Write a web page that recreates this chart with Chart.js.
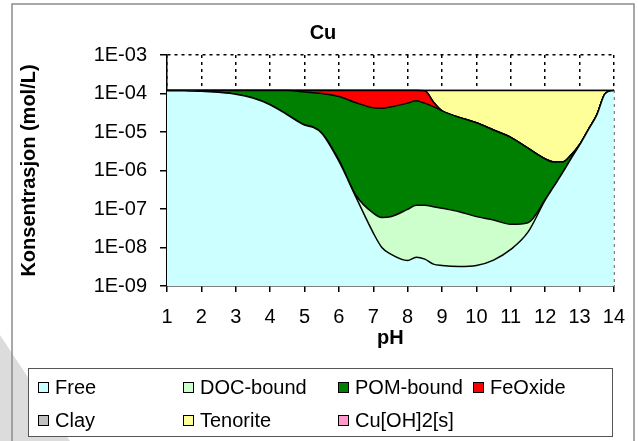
<!DOCTYPE html>
<html>
<head>
<meta charset="utf-8">
<script src="https://cdn.jsdelivr.net/npm/chart.js@4.4.1/dist/chart.umd.min.js"></script>
<style>
  html, body { margin: 0; padding: 0; background: #fff; }
  canvas { display: block; }
</style>
</head>
<body>
<canvas id="cuChart" width="638" height="441"></canvas>
<script>
// pH steps (x) and Cu species, mol/L
const ph = [1, 1.5, 2, 2.5, 3, 3.5, 4, 4.5, 5, 5.25, 5.5, 6, 6.5, 7, 7.25, 7.5, 8, 8.25, 8.5, 8.75,
            9, 9.5, 10, 10.5, 11, 11.5, 12, 12.25, 12.5, 12.75, 13, 13.25, 13.5, 13.75, 14];

const free = [1.18e-4, 1.17e-4, 1.15e-4, 1.07e-4, 9.55e-5, 7.6e-5, 5.1e-5, 2.8e-5, 1.51e-5, 1.32e-5,
              9.3e-6, 1.74e-6, 2.0e-7, 2.4e-8, 1.0e-8, 6.8e-9, 4.6e-9, 5.6e-9, 5.0e-9, 3.7e-9,
              3.4e-9, 3.2e-9, 3.4e-9, 4.7e-9, 8.9e-9, 2.5e-8, 1.7e-7, 3.8e-7, 8.5e-7, 2.0e-6,
              4.57e-6, 1.12e-5, 2.75e-5, 1.0e-4, 1.2e-4];

const docBound = [1e-7, 2e-7, 3e-7, 4e-7, 5e-7, 5e-7, 5e-7, 4e-7, 3e-7, 3e-7,
                  3e-7, 1.5e-7, 2.4e-8, 5.4e-8, 5.0e-8, 5.6e-8, 9.3e-8, 1.2e-7, 1.21e-7, 1.11e-7,
                  1.01e-7, 8.2e-8, 6.0e-8, 4.7e-8, 3.1e-8, 1.9e-8, 4e-9, 2e-9, 1e-9, 0,
                  0, 0, 0, 0, 0];

const pomBound = [1.9e-6, 2.8e-6, 4.7e-6, 1.26e-5, 2.4e-5, 4.35e-5, 6.85e-5, 9.06e-5, 9.42e-5, 9.12e-5,
                  9.04e-5, 8.13e-5, 5.73e-5, 4.26e-5, 4.16e-5, 4.46e-5, 5.61e-5, 6.45e-5, 5.61e-5, 4.56e-5,
                  3.54e-5, 2.39e-5, 1.73e-5, 1.12e-5, 7.2e-6, 3.76e-6, 1.83e-6, 1.28e-6, 8.1e-7, 5.1e-7,
                  1.0e-7, 5e-8, 2e-8, 0, 0];

const feOxide = [0, 0, 0, 0, 0, 0, 0, 1.0e-6, 1.04e-5, 1.53e-5,
                 2.0e-5, 3.68e-5, 6.25e-5, 7.73e-5, 7.83e-5, 7.53e-5, 6.38e-5, 5.54e-5, 6.13e-5, 1.46e-5,
                 0, 0, 0, 0, 0, 0, 0, 0, 0, 0,
                 0, 0, 0, 0, 0];

const clay = [0, 0, 0, 0, 0, 0, 0, 0, 0, 0,
              0, 0, 0, 0, 0, 0, 0, 0, 0, 0,
              0, 0, 0, 0, 0, 0, 0, 0, 0, 0,
              0, 0, 0, 0, 0];

const tenorite = [0, 0, 0, 0, 0, 0, 0, 0, 0, 0,
                  0, 0, 0, 0, 0, 0, 0, 0, 2.5e-6, 5.97e-5,
                  8.45e-5, 9.6e-5, 1.026e-4, 1.0875e-4, 1.128e-4, 1.162e-4, 1.18e-4, 1.183e-4, 1.183e-4, 1.175e-4,
                  1.153e-4, 1.0875e-4, 9.25e-5, 2.0e-5, 0];

const cuOH2 = [0, 0, 0, 0, 0, 0, 0, 0, 0, 0,
               0, 0, 0, 0, 0, 0, 0, 0, 0, 0,
               0, 0, 0, 0, 0, 0, 0, 0, 0, 0,
               0, 0, 0, 0, 0];

const phTicks = [1, 2, 3, 4, 5, 6, 7, 8, 9, 10, 11, 12, 13, 14];
const yTicks = [1e-9, 1e-8, 1e-7, 1e-6, 1e-5, 1e-4, 1e-3];
const yTickLabels = ['1E-09', '1E-08', '1E-07', '1E-06', '1E-05', '1E-04', '1E-03'];

const FONT = "'Liberation Sans', Arial, sans-serif";
// log axis drops zeros, which would break the stack; a negligible amount keeps the point
const NOTHING = 1e-20;

function series(label, values, color) {
    return {
        label: label,
        data: values.map((v, i) => ({ x: ph[i], y: v > 0 ? v : NOTHING })),
        backgroundColor: color,
        borderColor: '#000000',
        borderWidth: 1.5,
        pointRadius: 0,
        cubicInterpolationMode: 'monotone',
        fill: '-1'
    };
}

const datasets = [
    series('Free', free, '#CCFFFF'),
    series('DOC-bound', docBound, '#CCFFCC'),
    series('POM-bound', pomBound, '#008000'),
    series('FeOxide', feOxide, '#FF0000'),
    series('Clay', clay, '#C0C0C0'),
    series('Tenorite', tenorite, '#FFFF99'),
    series('Cu[OH]2[s]', cuOH2, '#FF99CC')
];
datasets[0].fill = 'start';

// frame, title and the boxed two-row legend of the original
const decorations = {
    id: 'decorations',
    beforeDraw(chart) {
        const c = chart.ctx;
        c.save();
        c.fillStyle = '#dcdcdc';
        c.beginPath();
        c.moveTo(0, 335);
        c.lineTo(70, 441);
        c.lineTo(0, 441);
        c.closePath();
        c.fill();
        c.strokeStyle = '#8c8c8c';
        c.lineWidth = 1.5;
        c.beginPath();
        c.moveTo(12, 460);
        c.lineTo(12, 4);
        c.lineTo(634, 4);
        c.lineTo(634, 460);
        c.stroke();
        c.restore();
    },
    afterDraw(chart) {
        const c = chart.ctx;
        c.save();
        c.fillStyle = '#000';
        c.font = 'bold 20px ' + FONT;
        c.textAlign = 'center';
        c.textBaseline = 'middle';
        c.fillText('Cu', 323, 33);

        c.fillStyle = '#fff';
        c.fillRect(28, 368, 584, 68);
        c.strokeStyle = '#555';
        c.lineWidth = 1;
        c.strokeRect(28.5, 368.5, 584, 68);

        const cols = [38, 183, 338, 473];
        const rows = [387, 420];
        c.font = '20px ' + FONT;
        c.textAlign = 'left';
        chart.data.datasets.forEach((ds, i) => {
            const x = cols[i < 4 ? i : i - 4];
            const y = rows[i < 4 ? 0 : 1];
            c.fillStyle = ds.backgroundColor;
            c.fillRect(x, y - 5, 10, 10);
            c.strokeStyle = '#000';
            c.strokeRect(x + 0.5, y - 4.5, 10, 10);
            c.fillStyle = '#000';
            c.fillText(ds.label, x + 17, y + 1);
        });
        c.restore();
    }
};

new Chart(document.getElementById('cuChart').getContext('2d'), {
    type: 'line',
    data: { datasets: datasets },
    options: {
        responsive: false,
        animation: false,
        layout: { padding: { left: 12, right: 23.5, top: 55, bottom: 87 } },
        plugins: {
            legend: { display: false },
            title: { display: false },
            tooltip: { enabled: false }
        },
        scales: {
            x: {
                type: 'linear',
                min: 1,
                max: 14,
                afterBuildTicks: (scale) => { scale.ticks = phTicks.map(v => ({ value: v })); },
                afterFit: (scale) => { scale.height = 68; },
                ticks: { color: '#000', padding: 13, font: { family: FONT, size: 20 }, callback: (v) => String(v) },
                grid: {
                    color: '#000',
                    lineWidth: 1.5,
                    tickLength: 6,
                    tickColor: '#000',
                    tickBorderDash: []
                },
                border: { display: true, color: '#000', width: 1.5, dash: [3, 4] },
                title: {
                    display: true,
                    text: 'pH',
                    color: '#000',
                    padding: { top: 4, bottom: 4 },
                    font: { family: FONT, size: 20, weight: 'bold' }
                }
            },
            y: {
                type: 'logarithmic',
                stacked: true,
                min: 1e-9,
                max: 1e-3,
                afterBuildTicks: (scale) => { scale.ticks = yTicks.map(v => ({ value: v })); },
                afterFit: (scale) => { scale.width = 155; },
                ticks: {
                    color: '#000',
                    padding: 13,
                    font: { family: FONT, size: 20 },
                    callback: (v, i) => yTickLabels[i]
                },
                grid: {
                    color: (ctx) => (ctx.tick && ctx.tick.value === 1e-3 ? '#000' : 'rgba(0,0,0,0)'),
                    lineWidth: 1.5,
                    tickLength: 7,
                    tickColor: '#000',
                    tickBorderDash: []
                },
                border: { display: true, color: '#000', width: 1.5, dash: [3, 4] },
                title: {
                    display: true,
                    text: 'Konsentrasjon (mol/L)',
                    color: '#000',
                    padding: { top: 5, bottom: 5 },
                    font: { family: FONT, size: 20, weight: 'bold' }
                }
            }
        }
    },
    plugins: [decorations]
});
</script>
</body>
</html>
